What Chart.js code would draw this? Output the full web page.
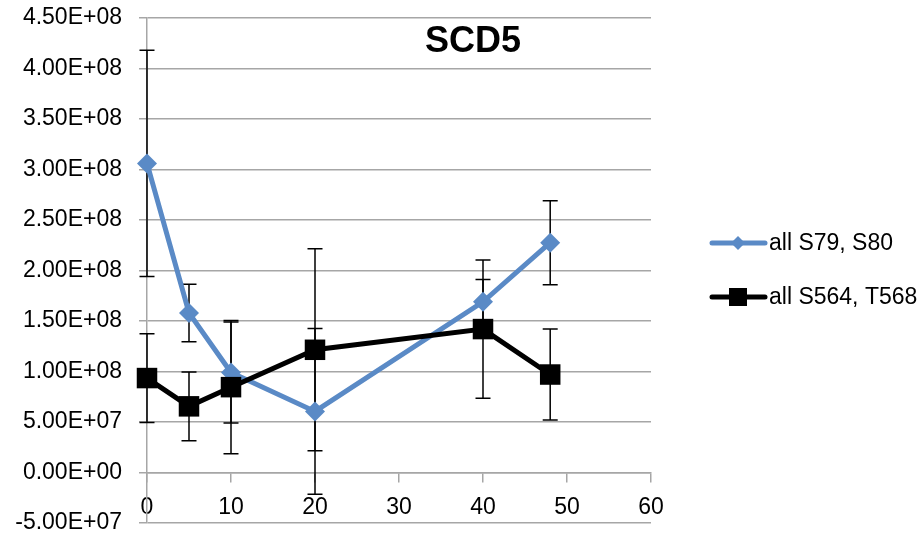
<!DOCTYPE html>
<html><head><meta charset="utf-8">
<script src="https://cdn.jsdelivr.net/npm/chart.js@4.4.1/dist/chart.umd.min.js"></script>
<style>html,body{margin:0;padding:0;background:#fff;}canvas{display:block;}</style>
</head><body>
<canvas id="c" width="922" height="538"></canvas>
<script>
const chartTitle = 'SCD5';
const xValues = [0, 5, 10, 20, 40, 48];
const series1Name = 'all S79, S80';
const series1Values = [3.06e8, 1.58e8, 9.9e7, 6.05e7, 1.69e8, 2.275e8];
const series1Errors = [1.12e8, 2.85e7, 5.0e7, 8.2e7, 2.2e7, 4.15e7];
const series2Name = 'all S564, T568';
const series2Values = [9.35e7, 6.55e7, 8.45e7, 1.215e8, 1.42e8, 9.7e7];
const series2Errors = [4.4e7, 3.4e7, 6.6e7, 1.0e8, 6.85e7, 4.5e7];
const xMin = 0, xMax = 60, xStep = 10;
const yMin = -5e7, yMax = 4.5e8, yStep = 5e7;

const BLUE = '#5A8AC6';
const BLACK = '#000000';
const GRID = '#a6a6a6';
const FONT = 'Liberation Sans, Arial, sans-serif';

function sci(v) {
  if (Math.abs(v) < 1e-9) return '0.00E+00';
  const e = Math.floor(Math.log10(Math.abs(v)) + 1e-9);
  const m = v / Math.pow(10, e);
  const es = (e < 0 ? '-' : '+') + String(Math.abs(e)).padStart(2, '0');
  return m.toFixed(2) + 'E' + es;
}

const errorSets = [series1Errors, series2Errors];

const errorBarPlugin = {
  id: 'errorBars',
  beforeDatasetsDraw(chart) {
    const ctx = chart.ctx, xs = chart.scales.x, ys = chart.scales.y;
    ctx.save();
    ctx.strokeStyle = '#000';
    ctx.lineWidth = 1.5;
    chart.data.datasets.forEach((ds, i) => {
      const errs = errorSets[i];
      ds.data.forEach((p, j) => {
        const px = xs.getPixelForValue(p.x);
        const top = ys.getPixelForValue(p.y + errs[j]);
        const bot = ys.getPixelForValue(p.y - errs[j]);
        ctx.beginPath();
        ctx.moveTo(px, top); ctx.lineTo(px, bot);
        ctx.moveTo(px - 7.5, top); ctx.lineTo(px + 7.5, top);
        ctx.moveTo(px - 7.5, bot); ctx.lineTo(px + 7.5, bot);
        ctx.stroke();
      });
    });
    ctx.restore();
  }
};

const decorPlugin = {
  id: 'decor',
  afterDraw(chart) {
    const ctx = chart.ctx;
    ctx.save();
    ctx.fillStyle = '#000';
    ctx.font = 'bold 36px ' + FONT;
    ctx.textAlign = 'center';
    ctx.textBaseline = 'alphabetic';
    ctx.fillText(chartTitle, 473, 52);
    const items = [
      {name: series1Name, color: BLUE, style: 'diamond', y: 243},
      {name: series2Name, color: BLACK, style: 'square', y: 297}
    ];
    items.forEach(it => {
      ctx.strokeStyle = it.color;
      ctx.lineWidth = 5;
      ctx.lineCap = 'round';
      ctx.beginPath();
      ctx.moveTo(712, it.y); ctx.lineTo(765, it.y);
      ctx.stroke();
      ctx.fillStyle = it.color;
      ctx.beginPath();
      if (it.style === 'diamond') {
        ctx.moveTo(738, it.y - 7); ctx.lineTo(745, it.y); ctx.lineTo(738, it.y + 7); ctx.lineTo(731, it.y);
        ctx.closePath(); ctx.fill();
      } else {
        ctx.fillRect(729, it.y - 9, 18, 18);
      }
      ctx.fillStyle = '#000';
      ctx.font = '23px ' + FONT;
      ctx.textAlign = 'left';
      ctx.textBaseline = 'middle';
      ctx.fillText(it.name, 769, it.y + 1);
    });
    ctx.restore();
  }
};

const toPoints = (vals) => xValues.map((x, i) => ({x, y: vals[i]}));

new Chart(document.getElementById('c'), {
  type: 'line',
  data: {
    datasets: [
      {label: series1Name, data: toPoints(series1Values), borderColor: BLUE, backgroundColor: BLUE, clip: false,
       borderWidth: 5, pointStyle: 'rectRot', pointRadius: 10, pointHoverRadius: 10, pointBorderWidth: 0, order: 2, tension: 0},
      {label: series2Name, data: toPoints(series2Values), borderColor: BLACK, backgroundColor: BLACK, clip: false,
       borderWidth: 5, pointStyle: 'rect', pointRadius: 14.5, pointHoverRadius: 14.5, pointBorderWidth: 0, order: 1, tension: 0}
    ]
  },
  options: {
    responsive: false,
    animation: false,
    events: [],
    layout: {padding: {top: 18, bottom: 15, left: 0, right: 271}},
    plugins: {legend: {display: false}, title: {display: false}, tooltip: {enabled: false}},
    scales: {
      x: {
        type: 'linear', position: {y: 0}, min: xMin, max: xMax,
        afterFit(scale) { scale.paddingLeft = 0; scale.paddingRight = 0; scale.paddingTop = 0; scale.paddingBottom = 0; },
        ticks: {stepSize: xStep, color: '#000', font: {family: FONT, size: 23}, padding: 12, maxRotation: 0, autoSkip: false},
        grid: {drawOnChartArea: false, drawTicks: true, tickLength: 9, color: GRID, lineWidth: 1.5},
        border: {display: true, color: GRID, width: 1.5}
      },
      y: {
        type: 'linear', min: yMin, max: yMax,
        afterFit(scale) { scale.width = 147; scale.paddingTop = 0; scale.paddingBottom = 0; },
        ticks: {stepSize: yStep, color: '#000', font: {family: FONT, size: 23}, padding: 17, callback: (v) => sci(v)},
        grid: {color: GRID, lineWidth: 1.5, tickLength: 8, drawTicks: true},
        border: {display: true, color: GRID, width: 1.5}
      }
    }
  },
  plugins: [errorBarPlugin, decorPlugin]
});
</script>
</body></html>
